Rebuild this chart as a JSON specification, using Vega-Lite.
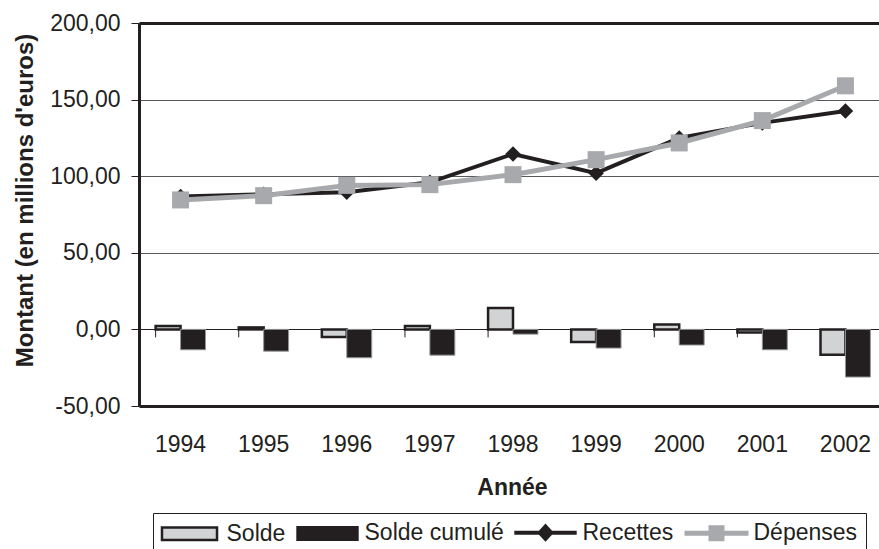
{
  "$schema": "https://vega.github.io/schema/vega-lite/v6.json",
  "width": 740,
  "height": 383,
  "autosize": {"type": "none"},
  "padding": {"left": 139, "top": 23, "right": 0, "bottom": 143},
  "background": "white",
  "config": {
    "font": "Liberation Sans",
    "view": {"stroke": null},
    "axis": {"labelFont": "Liberation Sans", "titleFont": "Liberation Sans"},
    "legend": {"labelFont": "Liberation Sans"}
  },
  "data": {
    "values": [
      {"annee": 1994, "serie": "Solde", "valeur": 2.3},
      {"annee": 1995, "serie": "Solde", "valeur": 1.3},
      {"annee": 1996, "serie": "Solde", "valeur": -5.0},
      {"annee": 1997, "serie": "Solde", "valeur": 2.2},
      {"annee": 1998, "serie": "Solde", "valeur": 14.0},
      {"annee": 1999, "serie": "Solde", "valeur": -8.3},
      {"annee": 2000, "serie": "Solde", "valeur": 3.2},
      {"annee": 2001, "serie": "Solde", "valeur": -2.0},
      {"annee": 2002, "serie": "Solde", "valeur": -16.6},
      {"annee": 1994, "serie": "Solde cumulé", "valeur": -13.3},
      {"annee": 1995, "serie": "Solde cumulé", "valeur": -14.2},
      {"annee": 1996, "serie": "Solde cumulé", "valeur": -18.5},
      {"annee": 1997, "serie": "Solde cumulé", "valeur": -16.8},
      {"annee": 1998, "serie": "Solde cumulé", "valeur": -3.1},
      {"annee": 1999, "serie": "Solde cumulé", "valeur": -12.2},
      {"annee": 2000, "serie": "Solde cumulé", "valeur": -10.2},
      {"annee": 2001, "serie": "Solde cumulé", "valeur": -13.3},
      {"annee": 2002, "serie": "Solde cumulé", "valeur": -31.1},
      {"annee": 1994, "serie": "Recettes", "valeur": 86.7},
      {"annee": 1995, "serie": "Recettes", "valeur": 88.2},
      {"annee": 1996, "serie": "Recettes", "valeur": 89.5},
      {"annee": 1997, "serie": "Recettes", "valeur": 96.0},
      {"annee": 1998, "serie": "Recettes", "valeur": 114.5},
      {"annee": 1999, "serie": "Recettes", "valeur": 102.0},
      {"annee": 2000, "serie": "Recettes", "valeur": 125.0},
      {"annee": 2001, "serie": "Recettes", "valeur": 134.8},
      {"annee": 2002, "serie": "Recettes", "valeur": 142.5},
      {"annee": 1994, "serie": "Dépenses", "valeur": 84.5},
      {"annee": 1995, "serie": "Dépenses", "valeur": 87.3},
      {"annee": 1996, "serie": "Dépenses", "valeur": 94.0},
      {"annee": 1997, "serie": "Dépenses", "valeur": 94.5},
      {"annee": 1998, "serie": "Dépenses", "valeur": 101.0},
      {"annee": 1999, "serie": "Dépenses", "valeur": 110.8},
      {"annee": 2000, "serie": "Dépenses", "valeur": 121.7},
      {"annee": 2001, "serie": "Dépenses", "valeur": 136.3},
      {"annee": 2002, "serie": "Dépenses", "valeur": 159.0}
    ]
  },
  "encoding": {
    "x": {
      "field": "annee",
      "type": "ordinal",
      "title": "Année",
      "scale": {"range": [0, 748], "paddingInner": 0.4, "paddingOuter": 0.2},
      "axis": {
        "labelAngle": 0,
        "labelFontSize": 23,
        "labelColor": "#231f20",
        "labelPadding": 27,
        "ticks": false,
        "tickSize": 0,
        "domainColor": "#231f20",
        "domainWidth": 3,
        "grid": false,
        "titleFontSize": 23,
        "titleFontWeight": "bold",
        "titleColor": "#231f20",
        "titleX": 373,
        "titleY": 88,
        "titleBaseline": "alphabetic"
      }
    },
    "y": {
      "field": "valeur",
      "type": "quantitative",
      "title": "Montant (en millions d'euros)",
      "scale": {"domain": [-50, 200], "nice": false, "zero": false},
      "axis": {
        "values": [-50, 0, 50, 100, 150, 200],
        "labelExpr": "replace(replace(format(datum.value, '.2f'), '.', ','), '\u2212', '-')",
        "labelFontSize": 23,
        "labelColor": "#231f20",
        "labelPadding": 11,
        "tickSize": 8,
        "tickColor": "#231f20",
        "tickWidth": 1,
        "domainColor": "#231f20",
        "domainWidth": 3,
        "grid": true,
        "gridColor": {"condition": {"test": "datum.value === 200 || datum.value === 0", "value": "#231f20"}, "value": "#58595b"},
        "gridWidth": {"condition": {"test": "datum.value === 200", "value": 3}, "value": 1},
        "gridOpacity": {"condition": {"test": "datum.value === -50", "value": 0}, "value": 1},
        "titleFontSize": 24,
        "titleFontWeight": "bold",
        "titleColor": "#231f20",
        "titleX": -114,
        "titleY": 177,
        "titleBaseline": "middle"
      }
    }
  },
  "layer": [
    {
      "transform": [{"filter": {"field": "serie", "oneOf": ["Solde", "Solde cumulé"]}}],
      "mark": {"type": "bar"},
      "encoding": {
        "xOffset": {"field": "serie", "type": "nominal", "scale": {"domain": ["Solde", "Solde cumulé"], "paddingInner": 0, "paddingOuter": 0}},
        "y2": {"datum": 0},
        "color": {
          "field": "serie",
          "type": "nominal",
          "scale": {
            "domain": ["Solde", "Solde cumulé", "Recettes", "Dépenses"],
            "range": ["#d1d3d4", "#231f20", "#231f20", "#a7a9ac"]
          },
          "legend": {
            "orient": "none",
            "legendX": 14,
            "legendY": 490,
            "direction": "horizontal",
            "title": null,
            "strokeColor": "#231f20",
            "fillColor": "white",
            "padding": 8,
            "cornerRadius": 0,
            "labelFontSize": 23,
            "labelColor": "#231f20",
            "labelLimit": 0,
            "symbolSize": 256,
            "symbolStrokeWidth": 2.5,
            "symbolOpacity": 1,
            "symbolType": {"expr": "datum.value === 'Recettes' ? 'M-3.9,-0.25L3.9,-0.25L3.9,0.25L-3.9,0.25Z M0,-1.15L1.05,0L0,1.15L-1.05,0Z' : datum.value === 'Dépenses' ? 'M-4,-0.31L4,-0.31L4,0.31L-4,0.31Z M-1,-1L1,-1L1,1L-1,1Z' : datum.value === 'Solde cumulé' ? 'M-3.9,-0.94L3.9,-0.94L3.9,0.94L-3.9,0.94Z' : 'M-3.44,-0.78L3.44,-0.78L3.44,0.78L-3.44,0.78Z'"},
            "symbolStrokeColor": {"expr": "datum.value === 'Solde' ? '#231f20' : 'transparent'"},
            "symbolOffset": 17,
            "labelOffset": 25.5,
            "columnPadding": 5,
            "gridAlign": "each"
          }
        },
        "stroke": {"condition": {"test": "datum.serie === 'Solde'", "value": "#231f20"}, "value": "#939598"},
        "strokeWidth": {"condition": {"test": "datum.serie === 'Solde'", "value": 2.5}, "value": 1}
      }
    },
    {
      "transform": [{"filter": "datum.serie === 'Recettes'"}],
      "mark": {"type": "rule", "color": "#231f20", "strokeWidth": 1},
      "encoding": {
        "x": {"field": "annee", "type": "ordinal", "bandPosition": 0, "title": "Année"},
        "y": {"datum": 0, "title": "Montant (en millions d'euros)"},
        "y2": {"datum": -5.2}
      }
    },
    {
      "transform": [{"filter": "datum.serie === 'Recettes'"}],
      "mark": {
        "type": "line",
        "color": "#231f20",
        "strokeWidth": 4,
        "point": {"shape": "diamond", "size": 240, "filled": true, "color": "#231f20", "opacity": 1}
      }
    },
    {
      "transform": [{"filter": "datum.serie === 'Dépenses'"}],
      "mark": {
        "type": "line",
        "color": "#a7a9ac",
        "strokeWidth": 5,
        "point": {"shape": "square", "size": 289, "filled": true, "color": "#a7a9ac", "opacity": 1}
      }
    }
  ]
}
